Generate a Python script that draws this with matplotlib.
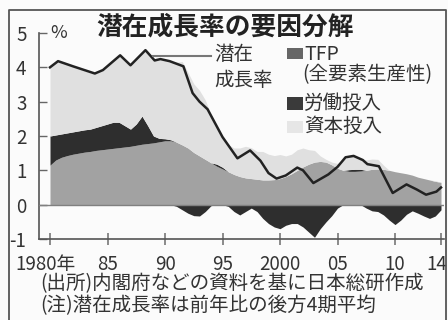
import matplotlib
matplotlib.use("Agg")
import matplotlib.pyplot as plt
from matplotlib.lines import Line2D
from matplotlib.patches import Rectangle
import matplotlib.transforms as mtransforms
import numpy as np

plt.rcParams['font.family'] = ['Noto Sans CJK JP', 'DejaVu Sans']

# ---------------- data ----------------
years = [1980.0 + 0.5 * i for i in range(69)]  # half-year grid 1980.0 .. 2014.0

tfp = [1.15, 1.30, 1.38, 1.43, 1.47, 1.50, 1.53, 1.55, 1.58, 1.60,
       1.62, 1.64, 1.66, 1.68, 1.70, 1.73, 1.76, 1.78, 1.80, 1.83,
       1.86, 1.86, 1.82, 1.74, 1.65, 1.52, 1.42, 1.32, 1.22, 1.12,
       1.04, 0.96, 0.88, 0.82, 0.78, 0.76, 0.74, 0.72, 0.72, 0.73,
       0.76, 0.82, 0.90, 1.00, 1.10, 1.18, 1.24, 1.26, 1.24, 1.16,
       1.06, 1.00, 0.97, 0.97, 0.98, 1.00, 1.03, 1.04, 1.03, 1.00,
       0.96, 0.93, 0.90, 0.86, 0.80, 0.76, 0.72, 0.68, 0.65]

labor = [0.85, 0.73, 0.68, 0.66, 0.65, 0.65, 0.65, 0.65, 0.67, 0.70,
         0.73, 0.76, 0.74, 0.62, 0.50, 0.62, 0.82, 0.52, 0.20, 0.10,
         0.06, 0.03, -0.05, -0.15, -0.25, -0.32, -0.33, -0.20, -0.03, 0.06,
         0.05, -0.05, -0.20, -0.30, -0.20, -0.10, -0.20, -0.40, -0.55, -0.65,
         -0.70, -0.60, -0.55, -0.55, -0.65, -0.80, -0.95, -0.70, -0.50, -0.32,
         -0.10, 0.00, 0.05, 0.06, 0.05, -0.10, -0.18, -0.20, -0.30, -0.45,
         -0.58, -0.45, -0.28, -0.18, -0.25, -0.33, -0.40, -0.33, -0.15]

capital = [2.00, 2.12, 2.11, 2.01, 1.91, 1.83, 1.72, 1.64, 1.57, 1.60,
           1.75, 1.85, 1.95, 1.90, 1.86, 1.95, 1.87, 2.15, 2.20, 2.29,
           2.28, 2.26, 2.33, 2.43, 2.20, 2.00, 1.91, 1.73, 1.41, 1.07,
           0.88, 0.79, 0.77, 0.83, 0.92, 0.90, 0.81, 0.83, 0.75, 0.70,
           0.70, 0.60, 0.57, 0.60, 0.55, 0.42, 0.34, 0.16, 0.08, 0.08,
           0.14, 0.32, 0.38, 0.38, 0.32, 0.30, 0.30, 0.28, 0.12, 0.00,
           0.00, 0.00, 0.00, 0.00, 0.00, 0.00, 0.00, 0.02, 0.00]

line_years = [1980.0, 1980.7, 1982.0, 1983.9, 1984.6, 1986.1, 1987.0, 1988.3,
              1989.1, 1989.6, 1990.4, 1991.6, 1992.4, 1993.0, 1993.7, 1995.0,
              1996.3, 1997.4, 1998.3, 1999.0, 1999.7, 2000.5, 2001.5, 2002.0,
              2002.9, 2004.2, 2005.0, 2005.7, 2006.4, 2007.2, 2007.6, 2008.6,
              2009.8, 2011.0, 2011.9, 2012.7, 2013.6, 2014.0]
potential = [4.00, 4.18, 4.03, 3.82, 3.92, 4.35, 4.06, 4.50,
             4.20, 4.24, 4.18, 4.03, 3.25, 3.00, 2.78, 1.97,
             1.35, 1.58, 1.28, 0.92, 0.76, 0.85, 1.08, 1.00,
             0.63, 0.88, 1.10, 1.38, 1.42, 1.30, 1.18, 1.12,
             0.34, 0.59, 0.44, 0.29, 0.38, 0.50]

xtick_pos = [1980, 1985, 1990, 1995, 2000, 2005, 2010, 2014]
xtick_lab = ['1980年', '85', '90', '95', '2000', '05', '10', '14']
ytick_pos = [-1, 0, 1, 2, 3, 4, 5]

title = '潜在成長率の要因分解'
note1 = '(出所)内閣府などの資料を基に日本総研作成'
note2 = '(注)潜在成長率は前年比の後方4期平均'

# ---------------- styling ----------------
W, H = 448, 320
BG = '#fbfbfb'
C_TFP = '#a2a2a2'
C_LAB = '#2e2e2e'
C_CAP = '#e0e0e0'
C_TXT = '#333333'

fig = plt.figure(figsize=(W / 100, H / 100), dpi=100, facecolor=BG)

def fx(x):
    return x / W

def fy(y):
    return 1 - y / H

ax = fig.add_axes([fx(39), fy(239), (444 - 39) / W, (239 - 33) / H])
ax.set_facecolor(BG)
ax.set_xlim(1980 - 11 / 11.5, 1980 + (444 - 50) / 11.5)
ax.set_ylim(-1, 5)

yr = np.array(years)
t = np.array(tfp)
lb = np.array(labor)
cp = np.array(capital)
lpos = np.clip(lb, 0, None)
lneg = np.clip(lb, None, 0)
cpos = np.clip(cp, 0, None)

ax.fill_between(yr, 0, t, color=C_TFP, lw=0)
ax.fill_between(yr, t, t + lpos, color=C_LAB, lw=0)
ax.fill_between(yr, t + lpos, t + lpos + cpos, color=C_CAP, lw=0)
ax.fill_between(yr, lneg, 0, color=C_LAB, lw=0)
ax.axhline(0, color='#808080', lw=1.0, zorder=3)
ax.plot(line_years, potential, color='#222222', lw=1.8, zorder=4)

for s in ['top', 'right']:
    ax.spines[s].set_visible(False)
for s in ['left', 'bottom']:
    ax.spines[s].set_color('#555555')
    ax.spines[s].set_linewidth(1.2)

ax.set_yticks(ytick_pos)
ax.set_yticklabels([str(v) for v in ytick_pos])
ax.tick_params(axis='y', direction='in', length=6, width=1, color='#666666',
               labelsize=13.5, labelcolor=C_TXT, pad=9)
ax.set_xticks(xtick_pos)
ax.set_xticklabels(xtick_lab)
ax.tick_params(axis='x', direction='inout', length=9, width=1.2, color='#777777',
               labelsize=13.5, labelcolor=C_TXT, pad=6)
xlabs = ax.get_xticklabels()
xlabs[0].set_transform(xlabs[0].get_transform() +
                       mtransforms.ScaledTranslation(-5 / 100, 0, fig.dpi_scale_trans))
xlabs[-1].set_transform(xlabs[-1].get_transform() +
                        mtransforms.ScaledTranslation(-4 / 100, 0, fig.dpi_scale_trans))

# unit
fig.text(fx(50), fy(33), '%', fontsize=13, color=C_TXT, ha='left', va='center')

# title
fig.text(fx(96), fy(27), title, fontsize=18.5, fontweight='bold', color='#222222',
         ha='left', va='center')

# leader & label for potential growth
fig.add_artist(Line2D([fx(153), fx(211)], [fy(56), fy(56)], color='#777777', lw=1.5))
fig.text(fx(214), fy(55), '潜在', fontsize=14, color=C_TXT, ha='left', va='center')
fig.text(fx(214), fy(81), '成長率', fontsize=14, color=C_TXT, ha='left', va='center')

# legend
fig.add_artist(Rectangle((fx(287), fy(59)), 16 / W, 11 / H, transform=fig.transFigure,
                         color='#666666', lw=0))
fig.text(fx(304), fy(55), 'TFP', fontsize=14, color=C_TXT, ha='left', va='center')
fig.text(fx(302), fy(75), '(全要素生産性)', fontsize=14, color=C_TXT, ha='left', va='center')
fig.add_artist(Rectangle((fx(287), fy(110)), 16 / W, 13 / H, transform=fig.transFigure,
                         color='#3a3a3a', lw=0))
fig.text(fx(304), fy(103), '労働投入', fontsize=14, color=C_TXT, ha='left', va='center')
fig.add_artist(Rectangle((fx(287), fy(133)), 16 / W, 12 / H, transform=fig.transFigure,
                         color='#e6e6e6', lw=0))
fig.text(fx(304), fy(126), '資本投入', fontsize=14, color=C_TXT, ha='left', va='center')

# notes
fig.text(fx(40), fy(284), note1, fontsize=14, color=C_TXT, ha='left', va='center')
fig.text(fx(40), fy(306), note2, fontsize=14, color=C_TXT, ha='left', va='center')

# outer frame
fig.add_artist(Line2D([fx(9), fx(9), fx(446), fx(446)], [fy(330), fy(10), fy(10), fy(330)],
                      color='#555555', lw=1.3))

fig.savefig('out.png', dpi=100, facecolor=BG)
